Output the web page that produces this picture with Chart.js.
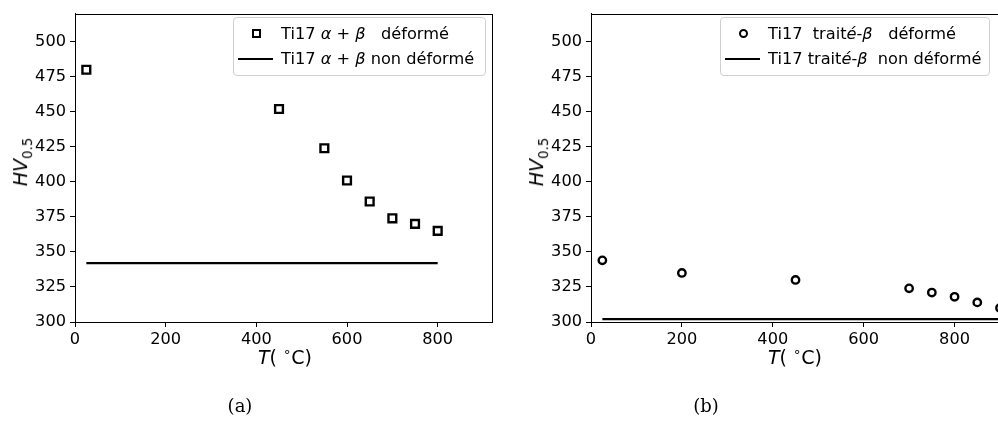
<!DOCTYPE html>
<html lang="fr">
<head>
<meta charset="UTF-8">
<title>Dureté HV0.5 en fonction de T</title>
<script src="https://cdn.jsdelivr.net/npm/chart.js"></script>
<style>
  body { margin: 0; width: 998px; height: 421px; overflow: hidden; background: #fff; position: relative;
         font-family: "DejaVu Sans", sans-serif; color: #000; }
  .plot { position: absolute; top: 0; height: 380px; }
  .ylab { position: absolute; font-size: 19px; white-space: nowrap; transform: translate(-50%, -50%) rotate(-90deg); }
  .xlab { position: absolute; font-size: 19px; white-space: nowrap; transform: translate(-50%, -50%); }
  .ylab sub, .xlab sup { font-size: 70%; }
  .cap { position: absolute; font-family: "DejaVu Serif", serif; font-size: 18px; transform: translate(-50%, -50%); }
  .legend { position: absolute; top: 17px; height: 59px; border: 1px solid #d0d0d0; border-radius: 4px;
            background: rgba(255,255,255,0.8); font-size: 16.2px; box-sizing: border-box; }
  .row { position: absolute; left: 0; height: 20px; line-height: 20px; white-space: pre; }
  .row span.t { position: absolute; left: 47px; }
  .mk-sq { position: absolute; left: 18px; top: 5px; width: 5px; height: 5px; border: 2.5px solid #000; background: #fff; }
  .mk-ci { position: absolute; left: 18px; top: 5px; width: 5px; height: 5px; border: 2.5px solid #000; border-radius: 50%; background: #fff; }
  .mk-ln { position: absolute; left: 4px; top: 9px; width: 35px; height: 2px; background: #000; }
</style>
</head>
<body>

<div class="plot" style="left:0; width:500px;"><canvas id="chartA"></canvas></div>
<div class="plot" style="left:510px; width:500px;"><canvas id="chartB"></canvas></div>

<div class="ylab" style="left:22px; top:162px;"><i>HV</i><sub>0.5</sub></div>
<div class="ylab" style="left:538px; top:162px;"><i>HV</i><sub>0.5</sub></div>
<div class="xlab" style="left:285px; top:356px;"><i>T</i>( <sup>∘</sup>C)</div>
<div class="xlab" style="left:795px; top:356px;"><i>T</i>( <sup>∘</sup>C)</div>
<div class="cap" style="left:240px; top:405px;">(a)</div>
<div class="cap" style="left:706px; top:405px;">(b)</div>

<div class="legend" style="left:233px; width:253px;">
  <div class="row" style="top:6px;"><span class="mk-sq"></span><span class="t">Ti17 <i>α</i> + <i>β</i>   déformé</span></div>
  <div class="row" style="top:31px;"><span class="mk-ln"></span><span class="t">Ti17 <i>α</i> + <i>β</i> non déformé</span></div>
</div>
<div class="legend" style="left:720px; width:270px;">
  <div class="row" style="top:6px;"><span class="mk-ci"></span><span class="t">Ti17  trait<i>é</i>-<i>β</i>   déformé</span></div>
  <div class="row" style="top:31px;"><span class="mk-ln"></span><span class="t">Ti17 trait<i>é</i>-<i>β</i>  non déformé</span></div>
</div>

<script>
// (a) Ti17 alpha+beta
const tempA = [25, 450, 550, 600, 650, 700, 750, 800];
const hvA = [480, 452, 424, 401, 386, 374, 370, 365];
const refTempA = [25, 800];
const refHvA = [342, 342];

// (b) Ti17 traité-beta
const tempB = [25, 200, 450, 700, 750, 800, 850, 900];
const hvB = [344, 335, 330, 324, 321, 318, 314, 310];
const refTempB = [25, 900];
const refHvB = [302, 302];

const yTicks = [300, 325, 350, 375, 400, 425, 450, 475, 500];
const xTicks = [0, 200, 400, 600, 800];

const pts = (xs, ys) => xs.map((x, i) => ({ x: x, y: ys[i] }));

// matplotlib-style box around the plot area
const frame = {
    id: 'frame',
    afterDraw(chart) {
        const a = chart.chartArea, ctx = chart.ctx;
        ctx.save();
        ctx.strokeStyle = '#000';
        ctx.lineWidth = 1;
        ctx.strokeRect(Math.round(a.left) + 0.5, Math.round(a.top) + 0.5,
                       Math.round(a.right - a.left), Math.round(a.bottom - a.top));
        ctx.restore();
    }
};

function makeChart(id, xs, ys, marker, radius, refX, refY, xMax, yWidth, padRight) {
    const ctx = document.getElementById(id).getContext('2d');
    return new Chart(ctx, {
        type: 'scatter',
        data: {
            datasets: [{
                data: pts(xs, ys),
                pointStyle: marker,
                pointRadius: radius,
                pointBorderWidth: 2.4,
                pointBorderColor: '#000',
                pointBackgroundColor: '#fff',
                showLine: false
            }, {
                type: 'line',
                data: pts(refX, refY),
                borderColor: '#000',
                borderWidth: 2.2,
                pointRadius: 0,
                fill: false
            }]
        },
        options: {
            responsive: true,
            maintainAspectRatio: false,
            animation: false,
            layout: { padding: { top: 8, right: padRight, left: 0, bottom: 0 } },
            plugins: { legend: { display: false }, tooltip: { enabled: false } },
            scales: {
                x: {
                    type: 'linear',
                    min: 0,
                    max: xMax,
                    afterBuildTicks: s => { s.ticks = xTicks.map(v => ({ value: v })); },
                    afterFit: s => { s.height = 58; },
                    grid: { drawOnChartArea: false, drawTicks: true, tickLength: 5, color: '#000' },
                    border: { color: '#000' },
                    ticks: { color: '#000', padding: 3, maxRotation: 0,
                             font: { family: 'DejaVu Sans', size: 16.2 } }
                },
                y: {
                    min: 300,
                    max: 520,
                    afterBuildTicks: s => { s.ticks = yTicks.map(v => ({ value: v })); },
                    afterFit: s => { s.width = yWidth; },
                    grid: { drawOnChartArea: false, drawTicks: true, tickLength: 5, color: '#000' },
                    border: { color: '#000' },
                    ticks: { color: '#000', padding: 4,
                             font: { family: 'DejaVu Sans', size: 16.2 } }
                }
            }
        },
        plugins: [frame]
    });
}

makeChart('chartA', tempA, hvA, 'rect', 5.5, refTempA, refHvA, 920, 75, 5);
makeChart('chartB', tempB, hvB, 'circle', 3.7, refTempB, refHvB, 900, 81, 10);
</script>

</body>
</html>
